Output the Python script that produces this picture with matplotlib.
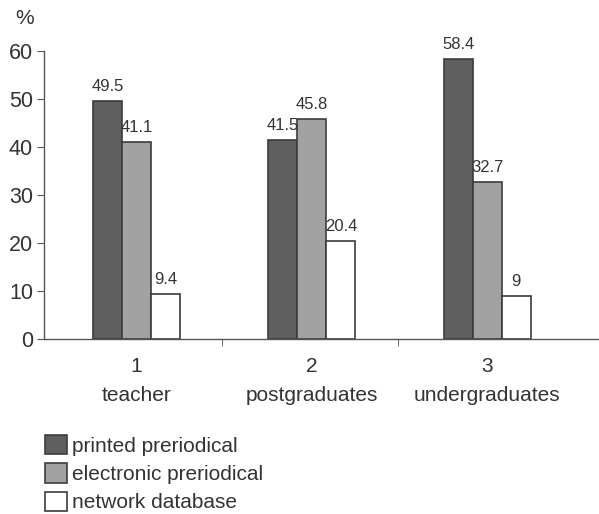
import numpy as np
import matplotlib
matplotlib.use("Agg")
import matplotlib.pyplot as plt

plt.rcParams['font.family'] = ['Liberation Sans', 'DejaVu Sans']

groups = ['teacher', 'postgraduates', 'undergraduates']
series = ['printed preriodical', 'electronic preriodical', 'network database']
printed = [49.5, 41.5, 58.4]
electronic = [41.1, 45.8, 32.7]
network = [9.4, 20.4, 9]
value_text = [['49.5', '41.5', '58.4'], ['41.1', '45.8', '32.7'], ['9.4', '20.4', '9']]

colors = ['#5f5f5f', '#a2a2a2', '#ffffff']
edge = '#3c3c3c'
text_col = '#333333'

fig = plt.figure(figsize=(5.99, 5.14), dpi=100)
ax = fig.add_axes([0.0735, 0.340, 0.9245, 0.561])

x = np.arange(1, len(groups) + 1)
w = 0.165
for i, (vals, col, lab) in enumerate(zip([printed, electronic, network], colors, series)):
    pos = x + (i - 1) * w
    bars = ax.bar(pos, vals, w, color=col, edgecolor=edge, linewidth=1.2, label=lab, zorder=2)
    for b, t in zip(bars, value_text[i]):
        ax.annotate(t, (b.get_x() + b.get_width() / 2, b.get_height()),
                    xytext=(0, 5), textcoords='offset points',
                    ha='center', va='bottom', fontsize=12, color=text_col)

ax.set_xlim(0.473, 3.63)
ax.set_ylim(0, 60)
ax.set_yticks(range(0, 61, 10))
ax.set_xticks(x)
ax.set_xticklabels([f'{n}\n{g}' for n, g in zip(x, groups)], linespacing=1.68)
ax.set_xticks([1.49, 2.49], minor=True)
ax.tick_params(axis='x', which='major', length=0, pad=13, labelsize=15, colors=text_col)
ax.tick_params(axis='x', which='minor', length=5, direction='out', color='#555555')
ax.tick_params(axis='y', length=5, direction='out', labelsize=15.5, colors=text_col, color='#555555', pad=3)

for s in ['top', 'right']:
    ax.spines[s].set_visible(False)
for s in ['left', 'bottom']:
    ax.spines[s].set_color('#555555')
    ax.spines[s].set_linewidth(1.0)

fig.text(25 / 599, 1 - 18 / 514, '%', ha='center', va='center', fontsize=15, color=text_col)

fig.legend(loc='upper left', bbox_to_anchor=(45 / 599, 1 - 435 / 514),
           frameon=False, fontsize=15, handlelength=1.05, handleheight=1.05,
           handletextpad=0.25, labelspacing=0.36, borderpad=0, borderaxespad=0,
           labelcolor=text_col)

fig.savefig('out.png', dpi=100)
